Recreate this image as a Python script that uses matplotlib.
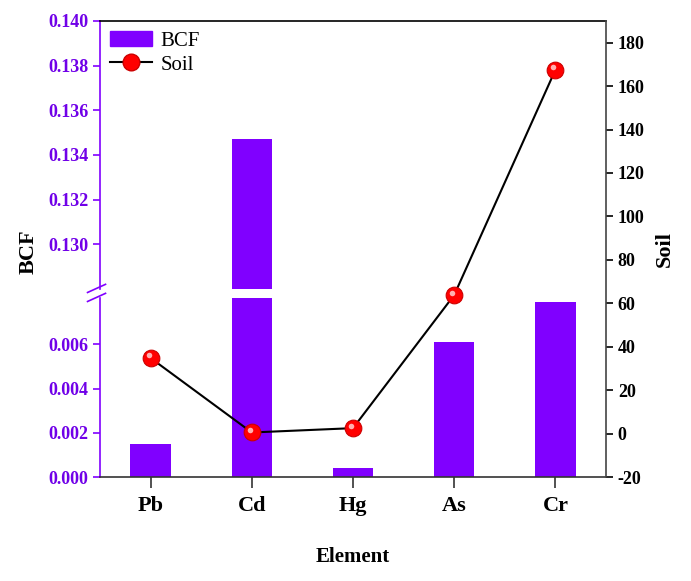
import numpy as np
import matplotlib.pyplot as plt
import matplotlib.transforms as mtrans
from matplotlib.patches import Patch
from matplotlib.lines import Line2D

plt.rcParams['font.family'] = ['Liberation Serif', 'DejaVu Serif']

# data
elements = ['Pb', 'Cd', 'Hg', 'As', 'Cr']
bcf = [0.0015, 0.1347, 0.00042, 0.0061, 0.0079]
soil = [34.8, 0.5, 2.5, 63.8, 167.5]
low_ticks = [0.000, 0.002, 0.004, 0.006]
high_ticks = [0.130, 0.132, 0.134, 0.136, 0.138, 0.140]
soil_ticks = [-20, 0, 20, 40, 60, 80, 100, 120, 140, 160, 180]

purple = '#8000FF'
ptext = '#7000E8'
x = np.arange(len(elements))

fig = plt.figure(figsize=(6.91, 5.81), dpi=100)
L, W = 0.1447, 0.7323
ax_hi = fig.add_axes([L, 0.5026, W, 0.9639 - 0.5026])
ax_lo = fig.add_axes([L, 0.179, W, 0.4871 - 0.179])
ax_s = fig.add_axes([L, 0.179, W, 0.9639 - 0.179])

for ax in (ax_hi, ax_lo):
    ax.bar(x, bcf, width=0.4, color=purple)
    ax.set_xlim(-0.5, 4.5)
    ax.tick_params(axis='y', colors=purple, labelcolor=ptext, direction='out',
                   length=5, width=1.2, labelsize=13)
    ax.spines['left'].set_color(purple)
    ax.spines['left'].set_linewidth(1.2)
    ax.spines['right'].set_visible(False)

ax_hi.set_ylim(0.128, 0.140)
ax_hi.set_yticks(high_ticks)
ax_hi.set_yticklabels(['%.3f' % v for v in high_ticks], fontweight='bold')
ax_hi.spines['bottom'].set_visible(False)
ax_hi.spines['top'].set_linewidth(1.2)
ax_hi.set_xticks([])

ax_lo.set_ylim(0, 0.0081)
ax_lo.set_yticks(low_ticks)
ax_lo.set_yticklabels(['%.3f' % v for v in low_ticks], fontweight='bold')
ax_lo.spines['top'].set_visible(False)
ax_lo.spines['bottom'].set_color('#333333')
ax_lo.spines['bottom'].set_linewidth(1.2)
ax_lo.set_xticks(x)
ax_lo.set_xticklabels(elements, fontsize=16, fontweight='bold')
ax_lo.tick_params(axis='x', direction='out', length=8, width=1.2, pad=6,
                  color='#333333')
ax_lo.set_xlabel('Element', fontsize=15, fontweight='bold', labelpad=22)

# soil on its own full-height right axis
ax_s.patch.set_visible(False)
for s in ('left', 'top', 'bottom'):
    ax_s.spines[s].set_visible(False)
ax_s.spines['right'].set_color('#444444')
ax_s.spines['right'].set_linewidth(1.2)
ax_s.plot(x, soil, color='black', lw=1.5, marker='o', ms=12,
          mfc='#FF0000', mec='#CC0000', mew=0.8, zorder=5)
shine = ax_s.transData + mtrans.ScaledTranslation(-0.02, 0.025, fig.dpi_scale_trans)
ax_s.plot(x, soil, ls='none', marker='o', ms=4, mfc='#FFB0B0', mec='none',
          zorder=6, transform=shine)
ax_s.set_xlim(-0.5, 4.5)
ax_s.set_ylim(-20, 190)
ax_s.set_xticks([])
ax_s.yaxis.tick_right()
ax_s.yaxis.set_label_position('right')
ax_s.set_yticks(soil_ticks)
ax_s.set_yticklabels([str(v) for v in soil_ticks], fontweight='bold')
ax_s.tick_params(axis='y', direction='out', length=5, width=1.2, labelsize=13,
                 colors='black')
ax_s.set_ylabel('Soil', fontsize=16, fontweight='bold', labelpad=7, rotation=90)

fig.text(0.041, 0.566, 'BCF', fontsize=16, fontweight='bold', rotation=90,
         ha='center', va='center')

# break marks on left spine
for yb in (0.5026, 0.4871):
    fig.add_artist(Line2D([L - 0.018, L + 0.008], [yb - 0.006, yb + 0.008],
                          color=purple, lw=1.2, transform=fig.transFigure))

handles = [Patch(color=purple, label='BCF'),
           Line2D([], [], color='black', lw=1.5, marker='o', ms=12,
                  mfc='#FF0000', mec='#CC0000', label='Soil')]
ax_hi.legend(handles=handles, loc='upper left', frameon=False, fontsize=15,
             handlelength=2.0, borderaxespad=0.3, labelspacing=0.2,
             handletextpad=0.4, borderpad=0.2)

fig.savefig('out.png', dpi=100)
